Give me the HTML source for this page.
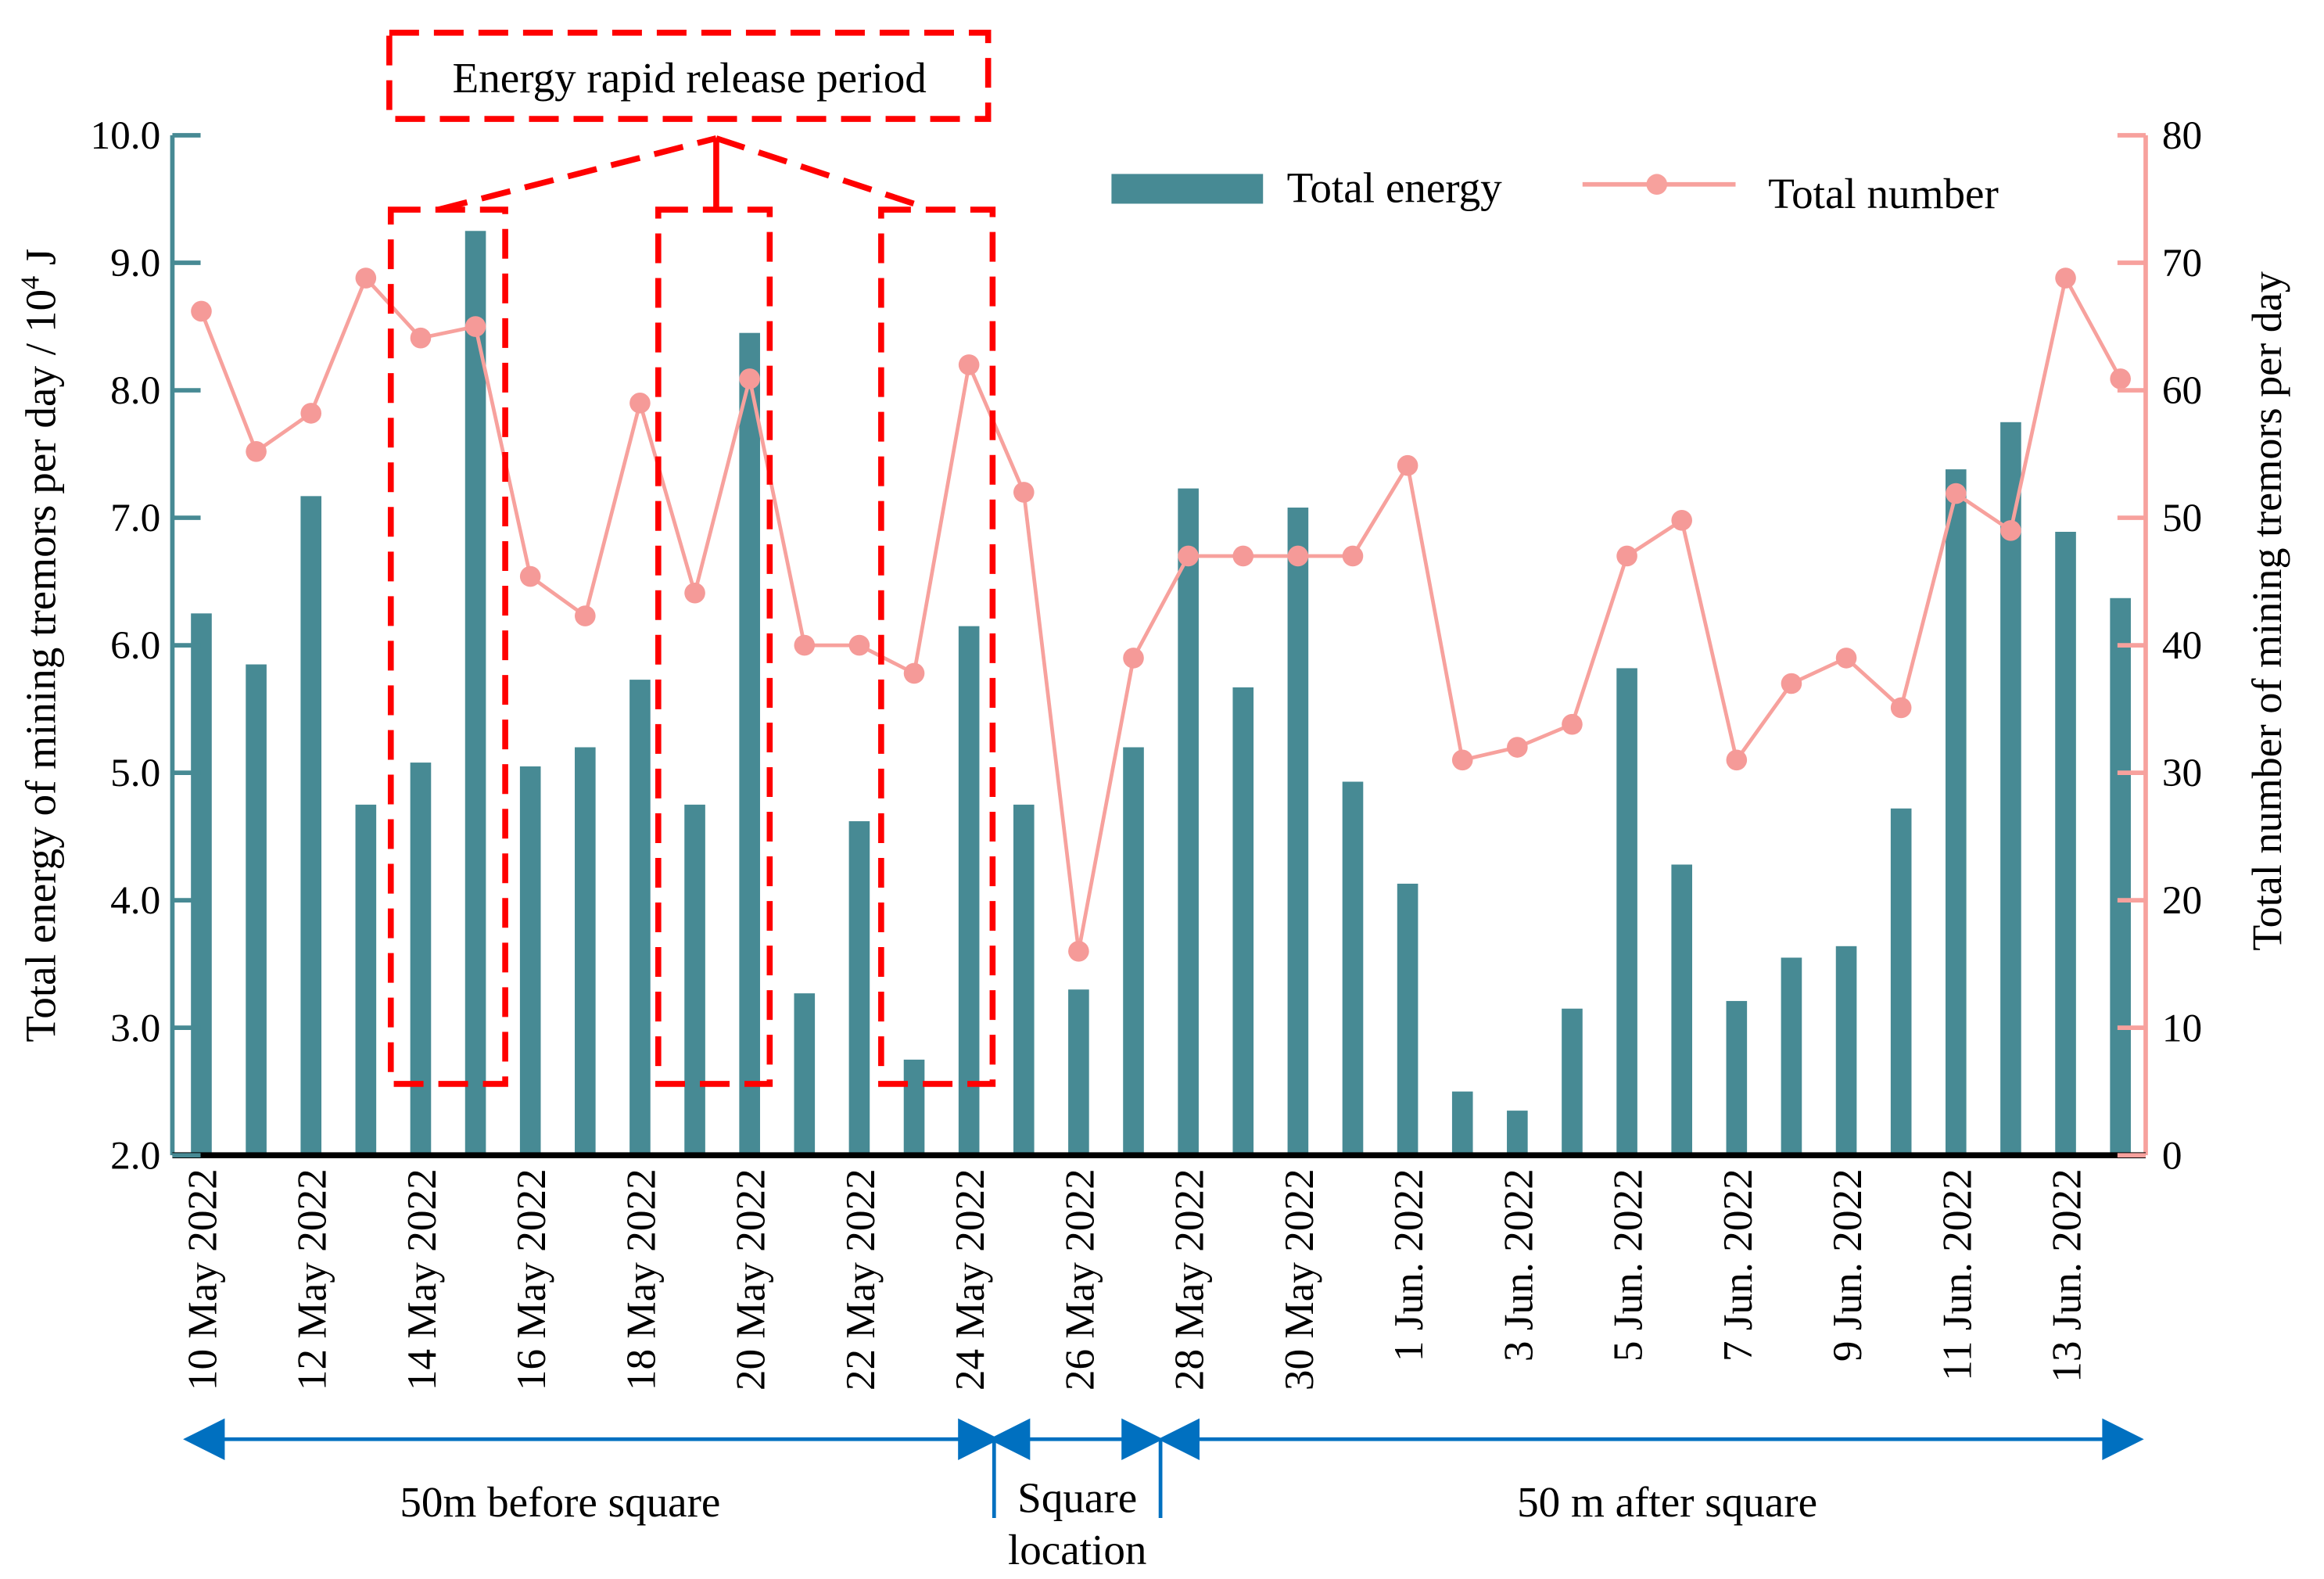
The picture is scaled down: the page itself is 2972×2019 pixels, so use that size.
<!DOCTYPE html>
<html><head><meta charset="utf-8"><style>
html,body{margin:0;padding:0;background:#fff;}
svg{display:block;font-family:"Liberation Serif",serif;}
</style></head><body>
<svg width="2972" height="2019" viewBox="0 -1 1564 1062" preserveAspectRatio="none">
<g id="bars"></g>
<g id="lineg"></g>
<g id="axes"></g>
<g fill="none" stroke="#ff0000" stroke-width="4" stroke-dasharray="20,10">
<rect x="262" y="21" width="403" height="58"/>
<rect x="263" y="140" width="77" height="588"/>
<rect x="443" y="140" width="75" height="588"/>
<rect x="593" y="140" width="75" height="588"/>
<line x1="295" y1="140" x2="482" y2="92"/><line x1="482" y1="92" x2="482" y2="140" stroke-dasharray="none"/><line x1="482" y1="92" x2="618" y2="137"/>
</g>
<text x="464" y="61" text-anchor="middle" font-size="29">Energy rapid release period</text>
<g>
<rect x="748" y="116" width="102" height="20" fill="#478a94"/>
<text x="866" y="135" font-size="29">Total energy</text>
<line x1="1065" y1="123" x2="1168" y2="123" stroke="#f7a19d" stroke-width="3"/>
<circle cx="1115" cy="123" r="7" fill="#f7a19d"/>
<text x="1190" y="139" font-size="29">Total number</text>
</g>
<g stroke="#0070c0" stroke-width="2.5" fill="#0070c0">
<line x1="140" y1="967" x2="658" y2="967"/><line x1="690" y1="967" x2="768" y2="967"/><line x1="802" y1="967" x2="1428" y2="967"/>
<polygon points="126,967 150,955 150,979"/><polygon points="670,967 646,955 646,979"/>
<polygon points="668,967 692,955 692,979"/><polygon points="780,967 756,955 756,979"/>
<polygon points="782,967 806,955 806,979"/><polygon points="1440,967 1416,955 1416,979"/>
<line x1="669" y1="967" x2="669" y2="1020"/><line x1="781" y1="967" x2="781" y2="1020"/>
</g>
<g font-size="29" text-anchor="middle">
<text x="377" y="1019">50m before square</text>
<text x="725" y="1016">Square</text>
<text x="725" y="1051">location</text>
<text x="1122" y="1019">50 m after square</text>
</g>
<text transform="translate(37,433) rotate(-90)" text-anchor="middle" font-size="29">Total energy of mining tremors per day / 10<tspan dy="-11" font-size="18">4</tspan><tspan dy="11"> J</tspan></text>
<text transform="translate(1535,410) rotate(-90)" text-anchor="middle" font-size="28.5">Total number of mining tremors per day</text>
</svg>
<script>
const dates=["10 May 2022","11 May 2022","12 May 2022","13 May 2022","14 May 2022","15 May 2022","16 May 2022","17 May 2022","18 May 2022","19 May 2022","20 May 2022","21 May 2022","22 May 2022","23 May 2022","24 May 2022","25 May 2022","26 May 2022","27 May 2022","28 May 2022","29 May 2022","30 May 2022","31 May 2022","1 Jun. 2022","2 Jun. 2022","3 Jun. 2022","4 Jun. 2022","5 Jun. 2022","6 Jun. 2022","7 Jun. 2022","8 Jun. 2022","9 Jun. 2022","10 Jun. 2022","11 Jun. 2022","12 Jun. 2022","13 Jun. 2022","14 Jun. 2022"];
const energy=[6.25,5.85,7.17,4.75,5.08,9.25,5.05,5.2,5.73,4.75,8.45,3.27,4.62,2.75,6.15,4.75,3.3,5.2,7.23,5.67,7.08,4.93,4.13,2.5,2.35,3.15,5.82,4.28,3.21,3.55,3.64,4.72,7.38,7.75,6.89,6.37];
const counts=[66.2,55.2,58.2,68.8,64.1,65,45.4,42.3,59,44.1,60.9,40,40,37.8,62,52,16,39,47,47,47,47,54.1,31,32,33.8,47,49.8,31,37,39,35.1,51.9,49,68.8,60.9];
const leftTicks=["2.0","3.0","4.0","5.0","6.0","7.0","8.0","9.0","10.0"];
const rightTicks=["0","10","20","30","40","50","60","70","80"];
const NS="http://www.w3.org/2000/svg";
const X0=116,X1=1444,YB=776,YT=90;
const xC=i=>135.5+i*36.9;
const yL=v=>YB-(v-2)/8*(YB-YT);
const yR=v=>YB-v/80*(YB-YT);
function mk(t,a,p){const e=document.createElementNS(NS,t);for(const k in a)e.setAttribute(k,a[k]);p.appendChild(e);return e;}
const bars=document.getElementById('bars');
energy.forEach((v,i)=>{const r=mk('rect',{x:xC(i)-7,y:yL(v),width:14,height:YB-yL(v),fill:'#478a94'},bars);

});
const lg=document.getElementById('lineg');
mk('polyline',{points:counts.map((v,i)=>xC(i)+','+yR(v)).join(' '),fill:'none',stroke:'#f7a19d','stroke-width':2.5},lg);
counts.forEach((v,i)=>{const c=mk('circle',{cx:xC(i),cy:yR(v),r:7,fill:'#f59a98'},lg);

});
const ax=document.getElementById('axes');
mk('line',{x1:X0,y1:YT,x2:X0,y2:YB,stroke:'#478a94','stroke-width':3},ax);
mk('line',{x1:X1,y1:YT,x2:X1,y2:YB,stroke:'#f7a19d','stroke-width':3},ax);
mk('line',{x1:X0,y1:YB,x2:X1,y2:YB,stroke:'#000','stroke-width':4},ax);
leftTicks.forEach(s=>{const v=parseFloat(s),y=yL(v);
mk('line',{x1:X0,y1:y,x2:X0+19,y2:y,stroke:'#478a94','stroke-width':3},ax);
const t=mk('text',{x:108,y:y+9,'text-anchor':'end','font-size':27},ax);t.textContent=s;

});
rightTicks.forEach(s=>{const v=parseFloat(s),y=yR(v);
mk('line',{x1:X1,y1:y,x2:X1-19,y2:y,stroke:'#f7a19d','stroke-width':3},ax);
const t=mk('text',{x:1455,y:y+9,'font-size':27},ax);t.textContent=s;

});
dates.forEach((d,i)=>{if(i%2)return;const x=xC(i)+10,y=785;
const t=mk('text',{transform:'translate('+x+','+y+') rotate(-90)','text-anchor':'end','font-size':28},ax);t.textContent=d;

});
</script>
</body></html>
